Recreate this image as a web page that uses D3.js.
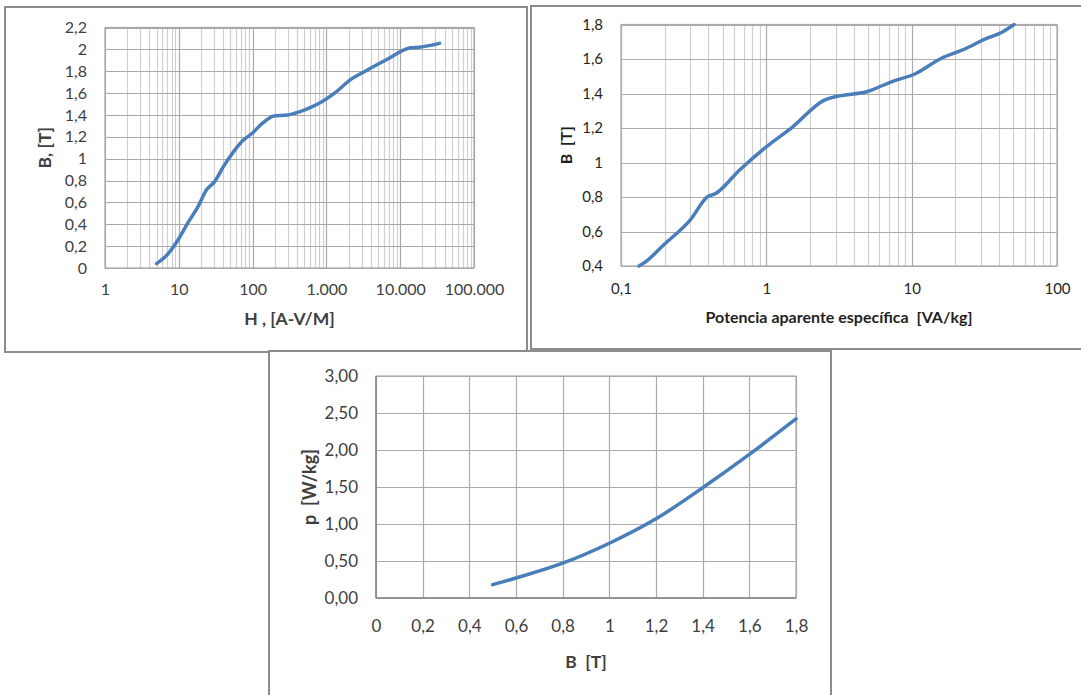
<!DOCTYPE html>
<html>
<head>
<meta charset="utf-8">
<script src="https://cdn.jsdelivr.net/npm/d3@7"></script>
<style>
  body { margin: 0; background: #fff; }
  svg { display: block; }
  text { font-family: Lato, "Open Sans", sans-serif; white-space: pre; }
</style>
</head>
<body>
<svg id="chart" width="1081" height="695"></svg>
<script>
// ---------- Data: panel 1 (B-H curve) ----------
const H_VALUES = [5, 6.5, 9.6, 13.2, 18.1, 24, 30.6, 40, 54.7, 75, 97.7, 134, 194, 295, 500, 764, 1290, 2190, 3350, 6310, 13900, 18100, 34100];
const B_VS_H   = [0.04, 0.10, 0.25, 0.41, 0.56, 0.72, 0.79, 0.925, 1.06, 1.17, 1.23, 1.32, 1.39, 1.40, 1.445, 1.50, 1.60, 1.73, 1.80, 1.90, 2.015, 2.02, 2.055];
const P1_X_TICKS = [1, 10, 100, 1000, 10000, 100000];
const P1_X_LABELS = ["1", "10", "100", "1.000", "10.000", "100.000"];
const P1_Y_TICKS = [0, 0.2, 0.4, 0.6, 0.8, 1, 1.2, 1.4, 1.6, 1.8, 2, 2.2];
const P1_Y_LABELS = ["0", "0,2", "0,4", "0,6", "0,8", "1", "1,2", "1,4", "1,6", "1,8", "2", "2,2"];

// ---------- Data: panel 2 (B vs apparent power) ----------
const S_VALUES = [0.133, 0.149, 0.197, 0.300, 0.396, 0.443, 0.655, 0.969, 1.52, 2.51, 3.13, 4.90, 7.25, 10.7, 15.9, 22.2, 32.8, 42.2, 50.7];
const B_VS_S   = [0.40, 0.427, 0.523, 0.668, 0.803, 0.818, 0.957, 1.082, 1.207, 1.362, 1.385, 1.41, 1.468, 1.516, 1.603, 1.651, 1.719, 1.757, 1.80];
const P2_X_TICKS = [0.1, 1, 10, 100];
const P2_X_LABELS = ["0,1", "1", "10", "100"];
const P2_Y_TICKS = [0.4, 0.6, 0.8, 1, 1.2, 1.4, 1.6, 1.8];
const P2_Y_LABELS = ["0,4", "0,6", "0,8", "1", "1,2", "1,4", "1,6", "1,8"];

// ---------- Data: panel 3 (losses vs B) ----------
const B_LOSS = [0.5, 0.6, 0.8, 1.0, 1.2, 1.4, 1.6, 1.8];
const P_LOSS = [0.18, 0.27, 0.47, 0.74, 1.07, 1.49, 1.94, 2.42];
const P3_X_TICKS = [0, 0.2, 0.4, 0.6, 0.8, 1, 1.2, 1.4, 1.6, 1.8];
const P3_X_LABELS = ["0", "0,2", "0,4", "0,6", "0,8", "1", "1,2", "1,4", "1,6", "1,8"];
const P3_Y_TICKS = [0, 0.5, 1, 1.5, 2, 2.5, 3];
const P3_Y_LABELS = ["0,00", "0,50", "1,00", "1,50", "2,00", "2,50", "3,00"];

const svg = d3.select("#chart");
const LINE_COLOR = "#4a7ebb";

function labelMap(ticks, labels) {
  const m = new Map(ticks.map((t, i) => [t, labels[i]]));
  return d => m.get(d);
}

function drawPanel(cfg) {
  svg.append("rect")
    .attr("x", cfg.frame[0]).attr("y", cfg.frame[1])
    .attr("width", cfg.frame[2]).attr("height", cfg.frame[3])
    .attr("fill", "#fff").attr("stroke", "#8c8c8c").attr("stroke-width", 2);

  const x = cfg.x, y = cfg.y;
  const [x0, x1] = x.range();
  const [y0, y1] = y.range();
  const g = svg.append("g");

  if (cfg.minorX) {
    g.append("g").selectAll("line").data(cfg.minorX).join("line")
      .attr("x1", d => Math.round(x(d)) + 0.5).attr("x2", d => Math.round(x(d)) + 0.5)
      .attr("y1", y1).attr("y2", y0)
      .attr("stroke", "#cfcfcf").attr("stroke-width", 1.2);
  }
  g.append("g").selectAll("line").data(cfg.xTicks).join("line")
    .attr("x1", d => Math.round(x(d)) + 0.5).attr("x2", d => Math.round(x(d)) + 0.5)
    .attr("y1", y1).attr("y2", y0)
    .attr("stroke", cfg.majorColor).attr("stroke-width", 1.2);
  g.append("g").selectAll("line").data(cfg.yTicks).join("line")
    .attr("x1", x0).attr("x2", x1)
    .attr("y1", d => Math.round(y(d)) + 0.5).attr("y2", d => Math.round(y(d)) + 0.5)
    .attr("stroke", cfg.majorColor).attr("stroke-width", 1.2);
  g.append("rect").attr("x", x0).attr("y", y1).attr("width", x1 - x0).attr("height", y0 - y1)
    .attr("fill", "none").attr("stroke", cfg.majorColor).attr("stroke-width", 1.2);
  if (cfg.axisColor) {
    g.append("line").attr("x1", x0).attr("x2", x0).attr("y1", y1).attr("y2", y0)
      .attr("stroke", cfg.axisColor).attr("stroke-width", 1.5);
    g.append("line").attr("x1", x0).attr("x2", x1).attr("y1", y0).attr("y2", y0)
      .attr("stroke", cfg.axisColor).attr("stroke-width", 1.5);
  }

  const xAxis = d3.axisBottom(x).tickValues(cfg.xTicks).tickFormat(labelMap(cfg.xTicks, cfg.xLabels)).tickSize(0).tickPadding(cfg.xPad);
  const xa = svg.append("g").attr("transform", `translate(0,${y0})`).call(xAxis);
  xa.select(".domain").remove();
  xa.selectAll("text").attr("font-size", cfg.tickSize).attr("fill", cfg.tickColor).attr("font-family", "Lato, sans-serif");

  const yAxis = d3.axisLeft(y).tickValues(cfg.yTicks).tickFormat(labelMap(cfg.yTicks, cfg.yLabels)).tickSize(0).tickPadding(cfg.yPad);
  const ya = svg.append("g").attr("transform", `translate(${x0},0)`).call(yAxis);
  ya.select(".domain").remove();
  ya.selectAll("text").attr("font-size", cfg.tickSize).attr("fill", cfg.tickColor).attr("font-family", "Lato, sans-serif");

  const line = d3.line().x(d => x(d[0])).y(d => y(d[1])).curve(d3.curveMonotoneX);
  svg.append("path").datum(cfg.xs.map((v, i) => [v, cfg.ys[i]]))
    .attr("d", line).attr("fill", "none").attr("stroke", LINE_COLOR)
    .attr("stroke-width", 3.5).attr("stroke-linecap", "round").attr("stroke-linejoin", "round");

  svg.append("text").attr("x", (x0 + x1) / 2).attr("y", cfg.xTitleY)
    .attr("text-anchor", "middle").attr("font-weight", "bold").attr("font-size", cfg.titleSize)
    .attr("fill", cfg.titleColor).attr("xml:space", "preserve").text(cfg.xTitle);
  svg.append("text").attr("transform", `translate(${cfg.yTitleX},${(y0 + y1) / 2}) rotate(-90)`)
    .attr("text-anchor", "middle").attr("font-weight", "bold").attr("font-size", cfg.yTitleSize)
    .attr("fill", cfg.titleColor).attr("xml:space", "preserve").text(cfg.yTitle);
}

// Panel 1
const x1s = d3.scaleLog().domain([1, 100000]).range([105, 474]);
const y1s = d3.scaleLinear().domain([0, 2.2]).range([268, 27.5]);
drawPanel({
  frame: [5, 7, 522, 345],
  x: x1s, y: y1s,
  minorX: x1s.ticks().filter(d => !P1_X_TICKS.includes(d)),
  xTicks: P1_X_TICKS, xLabels: P1_X_LABELS,
  yTicks: P1_Y_TICKS, yLabels: P1_Y_LABELS,
  majorColor: "#a8a8a8",
  tickSize: 16, tickColor: "#404040", xPad: 16, yPad: 18,
  xs: H_VALUES, ys: B_VS_H,
  xTitle: "H , [A-V/M]", xTitleY: 325, yTitle: "B, [T]", yTitleX: 51,
  titleSize: 17.5, yTitleSize: 17.5, titleColor: "#404040"
});

// Panel 2
const x2s = d3.scaleLog().domain([0.1, 100]).range([621, 1057]);
const y2s = d3.scaleLinear().domain([0.4, 1.8]).range([266, 24.5]);
drawPanel({
  frame: [531, 6, 560, 343],
  x: x2s, y: y2s,
  minorX: x2s.ticks().filter(d => !P2_X_TICKS.some(t => Math.abs(t - d) < 1e-9)),
  xTicks: P2_X_TICKS, xLabels: P2_X_LABELS,
  yTicks: P2_Y_TICKS, yLabels: P2_Y_LABELS,
  majorColor: "#ababab",
  tickSize: 15, tickColor: "#1f1f1f", xPad: 17, yPad: 18,
  xs: S_VALUES, ys: B_VS_S,
  xTitle: "Potencia aparente específica  [VA/kg]", xTitleY: 323, yTitle: "B  [T]", yTitleX: 572,
  titleSize: 16, yTitleSize: 16, titleColor: "#1f1f1f"
});

// Panel 3
const x3s = d3.scaleLinear().domain([0, 1.8]).range([376, 796]);
const y3s = d3.scaleLinear().domain([0, 3]).range([598, 376]);
drawPanel({
  frame: [269, 351, 562, 360],
  x: x3s, y: y3s,
  minorX: null,
  xTicks: P3_X_TICKS, xLabels: P3_X_LABELS,
  yTicks: P3_Y_TICKS, yLabels: P3_Y_LABELS,
  majorColor: "#ababab", axisColor: "#868686",
  tickSize: 17, tickColor: "#404040", xPad: 22, yPad: 18,
  xs: B_LOSS, ys: P_LOSS,
  xTitle: "B  [T]", xTitleY: 668, yTitle: "p  [W/kg]", yTitleX: 316,
  titleSize: 17.5, yTitleSize: 18, titleColor: "#404040"
});
</script>
</body>
</html>
